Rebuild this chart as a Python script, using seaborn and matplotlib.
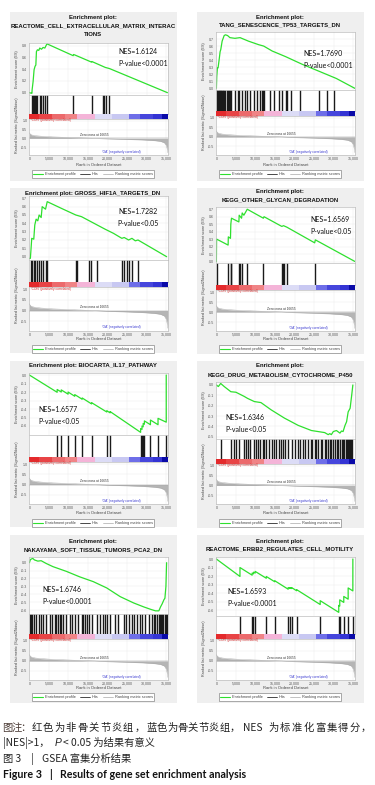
import matplotlib
matplotlib.use("Agg")
import matplotlib.pyplot as plt
import seaborn as sns
import pandas as pd
from matplotlib.lines import Line2D
from matplotlib.patches import Rectangle

# ---------------- data ----------------
titles = [
    ["Enrichment plot:", "REACTOME_CELL_EXTRACELLULAR_MATRIX_INTERAC", "TIONS"],
    ["Enrichment plot:", "TANG_SENESCENCE_TP53_TARGETS_DN"],
    ["Enrichment plot: GROSS_HIF1A_TARGETS_DN"],
    ["Enrichment plot:", "KEGG_OTHER_GLYCAN_DEGRADATION"],
    ["Enrichment plot: BIOCARTA_IL17_PATHWAY"],
    ["Enrichment plot:", "KEGG_DRUG_METABOLISM_CYTOCHROME_P450"],
    ["Enrichment plot:", "NAKAYAMA_SOFT_TISSUE_TUMORS_PCA2_DN"],
    ["Enrichment plot:", "REACTOME_ERBB2_REGULATES_CELL_MOTILITY"],
]
nes_values = ["1.6124", "1.7690", "1.7282", "1.6569", "1.6577", "1.6346", "1.6746", "1.6593"]
p_values = ["P-value<0.0001", "P-value<0.0001", "P-value<0.05", "P-value<0.05",
            "P-value<0.05", "P-value<0.05", "P-value<0.0001", "P-value<0.0001"]

es1_x = [0, 500, 650, 700, 950, 1200, 1450, 1650, 1800, 2050, 2400, 2650, 3100, 3500, 3950, 4400, 4550,
         11200, 11300, 11700, 15900, 16000, 19400, 20500, 35300]
es1_y = [0.0, -0.01, -0.01, 0.05, 0.19, 0.39, 0.45, 0.47, 0.70, 0.73, 0.72, 0.76, 0.74, 0.77, 0.76, 0.82, 0.83,
         0.63, 0.65, 0.64, 0.52, 0.53, 0.43, 0.41, 0.0]
hits1 = [600, 850, 1100, 1400, 1800, 2050, 2650, 3000, 3550, 3900, 4450, 11250, 15950, 18900, 19200, 19500, 20400]

es2_x = [0, 100, 260, 430, 690, 950, 1120, 1470, 1990, 2330, 2850, 3460, 4750, 6050, 6910, 8210, 10800,
         12100, 14260, 17700, 22000, 26350, 30670, 35400]
es2_y = [0.0, 0.17, 0.29, 0.29, 0.40, 0.52, 0.55, 0.67, 0.75, 0.76, 0.75, 0.72, 0.71, 0.72, 0.70, 0.67, 0.62,
         0.60, 0.53, 0.45, 0.34, 0.24, 0.14, 0.0]
hits2 = [100, 250, 420, 600, 700, 850, 950, 1100, 1300, 1450, 1600, 1800, 1950, 2300, 2600, 2900, 3200, 3500,
         3800, 4700, 5400, 5800, 6500, 7300, 7800, 8600, 9500, 10300, 11200, 11600, 11900, 12100, 13800, 14700,
         16000, 16800, 17700, 18100, 19000, 21500, 26300, 28400, 30100]

es3_x = [0, 250, 430, 600, 1120, 1380, 1720, 2150, 2490, 3010, 3270, 4130, 4560, 8170, 11870, 13330, 19350,
         21500, 23650, 24250, 25370, 26230, 27090, 27780, 35090]
es3_y = [-0.02, -0.02, 0.10, 0.22, 0.21, 0.38, 0.45, 0.43, 0.50, 0.47, 0.60, 0.57, 0.66, 0.58, 0.50, 0.48, 0.33,
         0.28, 0.22, 0.23, 0.20, 0.22, 0.19, 0.20, 0.0]
hits3 = [430, 700, 1120, 1460, 1890, 2400, 3010, 3440, 4300, 4560, 11870, 12200, 15300, 15650, 17400, 23650,
         24100, 24950, 25370, 26230, 27780]

es4_x = [0, 50, 3000, 3050, 3600, 3690, 3860, 5750, 5830, 6440, 6600, 7030, 7890, 12010, 12180, 16730, 17160,
         18020, 25140, 25310, 35440]
es4_y = [0.0, 0.30, 0.22, 0.33, 0.31, 0.50, 0.58, 0.53, 0.62, 0.58, 0.65, 0.62, 0.70, 0.58, 0.60, 0.47, 0.48,
         0.46, 0.25, 0.29, 0.0]
hits4 = [50, 3000, 3690, 3860, 5750, 6000, 6600, 7890, 12010, 16730, 16980, 17330, 18020, 25310]

es5_x = [0, 7100, 7100, 8150, 8150, 9900, 9900, 11600, 11600, 13500, 13500, 15900, 15900, 19780, 19780, 20640,
         20640, 28450, 28450, 28800, 28800, 29100, 29100, 29410, 29410, 30960, 30960, 32900, 32900, 35000, 35000]
es5_y = [0.0, -0.203, -0.17, -0.20, -0.175, -0.225, -0.20, -0.25, -0.23, -0.285, -0.27, -0.34, -0.325, -0.435,
         -0.42, -0.445, -0.43, -0.675, -0.63, -0.64, -0.60, -0.61, -0.57, -0.58, -0.54, -0.585, -0.53, -0.585,
         -0.51, -0.555, 0.0]
hits5 = [7100, 8150, 9900, 11600, 13500, 15900, 19780, 20640, 28450, 28800, 29100, 29410, 30960, 32900, 35000]

es6_x = [0, 500, 1100, 2000, 3700, 5000, 7100, 8000, 9700, 11400, 14000, 17400, 20900, 24300, 26000, 27700,
         28600, 29000, 29400, 29900, 30700, 31600, 32000, 32400, 32900, 33300, 33700, 34200, 34600, 34900]
es6_y = [0.0, -0.015, 0.015, -0.015, -0.065, -0.07, -0.11, -0.13, -0.16, -0.17, -0.24, -0.32, -0.39, -0.44,
         -0.45, -0.46, -0.48, -0.47, -0.48, -0.45, -0.44, -0.465, -0.445, -0.45, -0.39, -0.355, -0.26, -0.225,
         -0.10, 0.0]
hits6 = [1115, 3690, 4380, 4980, 5830, 7120, 7550, 8150, 8580, 9700, 10120, 10730, 11240, 11840, 12270, 12700,
         13560, 14160, 14840, 15270, 15960, 16560, 16990, 17420, 18280, 19310, 19990, 20850, 21280, 22140, 22740,
         23420, 24110, 24540, 25140, 25570, 26000, 26680, 27110, 27710, 28140, 28570, 29000, 29430, 29860, 30290,
         30720, 31150, 31570, 32000, 32430, 32690, 33030, 33290, 33550, 33890, 34150, 34400, 34750]

es7_x = [0, 260, 860, 1290, 2150, 3010, 4300, 6020, 9460, 12900, 16340, 19780, 23220, 26660, 29240, 30960,
         32250, 33110, 33540, 33970, 34400, 34660, 34920, 35090]
es7_y = [0.0, 0.04, 0.055, 0.035, 0.02, 0.025, -0.01, -0.05, -0.11, -0.18, -0.24, -0.32, -0.43, -0.51, -0.56,
         -0.59, -0.61, -0.61, -0.56, -0.52, -0.47, -0.45, -0.30, 0.0]
hits7 = [170, 430, 690, 1120, 1720, 2410, 3010, 3440, 4300, 5160, 5850, 6450, 6710, 7310, 7740, 8170, 8600,
         9460, 10490, 11010, 11610, 12470, 13330, 13760, 14190, 14790, 15310, 15910, 17200, 18060, 18920, 19350,
         19780, 20640, 21930, 22790, 24080, 24770, 25370, 26230, 26660, 27520, 28210, 28810, 29670, 30530, 31390,
         31820, 32250, 32680, 33110, 33370, 33710, 33970, 34230, 34570, 34830, 35090]

es8_x = [0, 6030, 6030, 9140, 9140, 9480, 9480, 9910, 9910, 12760, 12760, 14910, 14910, 18360, 18360, 18790,
         18790, 19220, 19220, 20520, 20520, 26550, 26550, 31290, 31290, 31550, 31550, 32580, 32580, 33700, 33700,
         34900, 34900]
es8_y = [0.0, -0.205, -0.10, -0.19, -0.165, -0.175, -0.155, -0.165, -0.145, -0.226, -0.205, -0.267, -0.255,
         -0.355, -0.335, -0.347, -0.335, -0.347, -0.335, -0.373, -0.36, -0.535, -0.49, -0.627, -0.545, -0.553,
         -0.48, -0.51, -0.44, -0.472, -0.34, -0.375, 0.0]
hits8 = [6030, 9140, 9480, 9910, 12760, 14910, 18360, 18790, 19220, 20520, 26550, 31290, 31550, 32580, 33700,
         34900]

es_x = [es1_x, es2_x, es3_x, es4_x, es5_x, es6_x, es7_x, es8_x]
es_y = [es1_y, es2_y, es3_y, es4_y, es5_y, es6_y, es7_y, es8_y]
hits = [hits1, hits2, hits3, hits4, hits5, hits6, hits7, hits8]
es_ticks = [
    [0.0, 0.2, 0.4, 0.6, 0.8],
    [0.0, 0.1, 0.2, 0.3, 0.4, 0.5, 0.6, 0.7],
    [0.0, 0.1, 0.2, 0.3, 0.4, 0.5, 0.6, 0.7],
    [0.0, 0.1, 0.2, 0.3, 0.4, 0.5, 0.6, 0.7],
    [0.0, -0.1, -0.2, -0.3, -0.4, -0.5, -0.6],
    [0.0, -0.1, -0.2, -0.3, -0.4, -0.5],
    [0.0, -0.1, -0.2, -0.3, -0.4, -0.5, -0.6],
    [0.0, -0.1, -0.2, -0.3, -0.4, -0.5, -0.6],
]

# ranked list metric (shared)
rank_x = [0, 200, 600, 1500, 3000, 6000, 10000, 14000, 16655, 20000, 25000, 29000, 32000, 33500, 34500, 35000,
          35300, 35400]
rank_y = [0.32, 0.24, 0.19, 0.15, 0.12, 0.08, 0.05, 0.02, 0.0, -0.03, -0.06, -0.09, -0.13, -0.17, -0.25, -0.4,
          -0.65, -0.82]
rank_ticks = [0, 5000, 10000, 15000, 20000, 25000, 30000, 35000]
rank_ticklabels = ["0", "5,000", "10,000", "15,000", "20,000", "25,000", "30,000", "35,000"]
metric_ticks = [1.0, 0.5, 0.0, -0.5]

# colour bar blocks (rank edges and colours)
cb_edges = [0, 2500, 5660, 9000, 12100, 16800, 21100, 25400, 28400, 31500, 33980, 35450]
cb_colors = ["#e42a2c", "#e84446", "#ec6a6c", "#f08486", "#f4b4d8", "#dcdcf6", "#c8c8f2", "#6e6ee8",
             "#4646dc", "#3434d4", "#0a0aa8"]

legend_labels = ["Enrichment profile", "Hits", "Ranking metric scores"]

# ---------------- layout (pixels) ----------------
W, H = 375, 785
cols = [0, 1, 0, 1, 0, 1, 0, 1]
ylims = [(-0.04, 0.846), (-0.024, 0.80), (-0.04, 0.728), (-0.02, 0.73),
         (-0.706, 0.024), (-0.522, 0.029), (-0.65, 0.072), (-0.67, 0.024)]
lay = [
    dict(bg=(12, 181), ty=[17, 25.5, 34], es=(43, 95), cb=(114, 119), rk=155, xl=165, leg=174, nes=(118, 52), pv=(118, 63)),
    dict(bg=(12, 181), ty=[17, 25], es=(32, 90), cb=(111, 116), rk=155, xl=165, leg=174, nes=(303, 53), pv=(303, 65)),
    dict(bg=(188, 353), ty=[193], es=(196, 260), cb=(282, 287), rk=331, xl=339, leg=349, nes=(118, 211), pv=(117, 223)),
    dict(bg=(188, 354), ty=[192, 200], es=(207, 263), cb=(285, 290), rk=331, xl=339, leg=349, nes=(310, 220), pv=(310, 232)),
    dict(bg=(361, 527), ty=[366], es=(373, 435), cb=(457, 462), rk=504, xl=513, leg=523, nes=(38, 410), pv=(38, 421)),
    dict(bg=(361, 528), ty=[366, 375], es=(382, 439), cb=(459, 464), rk=504, xl=513, leg=523, nes=(225, 418), pv=(225, 430)),
    dict(bg=(535, 703), ty=[541, 550], es=(557, 614), cb=(634, 639), rk=680, xl=688, leg=697, nes=(42, 590), pv=(42, 602)),
    dict(bg=(535, 703), ty=[541, 549], es=(557, 616), cb=(634, 639), rk=680, xl=688, leg=697, nes=(227, 592), pv=(227, 603)),
]

sns.set_theme(style="white")
plt.rcParams['font.family'] = ['Liberation Sans', 'DejaVu Sans']

fig = plt.figure(figsize=(W / 100, H / 100), dpi=100)
fig.patch.set_facecolor("white")


def fx(px):
    return px / W


def fy(py):
    return 1 - py / H


def add_ax(x0, y0, x1, y1):
    return fig.add_axes([fx(x0), fy(y1), (x1 - x0) / W, (y1 - y0) / H])


XMIN, XMAX = -100, 35450
GREEN = "#2ee02e"
SPINE = "#bdbdbd"
TICKC = "#555555"
NESFONT = ["Lato", "DejaVu Sans"]


def style_spines(ax):
    for s in ax.spines.values():
        s.set_color(SPINE)
        s.set_linewidth(0.5)


for i in range(8):
    L = lay[i]
    ox = 0 if cols[i] == 0 else 187
    axl, axr = 29 + ox, 168 + ox
    cx = 93 + ox

    # panel background
    fig.add_artist(Rectangle((fx(10 + ox), fy(L['bg'][1])), 167 / W, (L['bg'][1] - L['bg'][0]) / H,
                             transform=fig.transFigure, facecolor="#efefef", edgecolor="none", zorder=-5))
    # titles
    for t, ty in zip(titles[i], L['ty']):
        fig.text(fx(cx), fy(ty), t, ha="center", va="center", fontsize=4.3, fontweight="bold", color="#111111")

    # ES plot
    es = add_ax(axl, L['es'][0], axr, L['es'][1])
    df = pd.DataFrame({"rank": es_x[i], "es": es_y[i]})
    sns.lineplot(data=df, x="rank", y="es", ax=es, color=GREEN, lw=0.9, sort=False, estimator=None)
    es.set_xlim(XMIN, XMAX)
    es.set_ylim(*ylims[i])
    es.set_xticks(rank_ticks)
    es.set_xticklabels([])
    es.set_yticks(es_ticks[i])
    es.set_yticklabels([f"{v:.1f}" for v in es_ticks[i]])
    es.tick_params(labelsize=2.6, length=0, pad=1.2, colors=TICKC)
    es.grid(True, color="#ebebeb", lw=0.35)
    es.set_xlabel("")
    es.set_ylabel("")
    style_spines(es)
    fig.text(fx(ox + 17), fy((L['es'][0] + L['es'][1]) / 2), "Enrichment score (ES)", rotation=90,
             ha="center", va="center", fontsize=2.7, color="#444444")
    fig.text(fx(L['nes'][0]), fy(L['nes'][1]), "NES=" + nes_values[i], ha="left", va="center",
             fontsize=5.0, family=NESFONT, color="#111111")
    fig.text(fx(L['pv'][0]), fy(L['pv'][1]), p_values[i], ha="left", va="center",
             fontsize=5.0, family=NESFONT, color="#111111")

    # hits
    hx = add_ax(axl, L['es'][1], axr, L['cb'][0])
    sns.rugplot(x=hits[i], ax=hx, height=1.0, color="#1a1a1a", lw=0.32, expand_margins=False)
    hx.set_xlim(XMIN, XMAX)
    hx.set_ylim(0, 1)
    hx.set_xticks([])
    hx.set_yticks([])
    style_spines(hx)

    # colour bar
    cb = add_ax(axl, L['cb'][0], axr, L['cb'][1])
    for a, b, c in zip(cb_edges[:-1], cb_edges[1:], cb_colors):
        cb.axvspan(a, b, color=c, lw=0)
    cb.set_xlim(XMIN, XMAX)
    cb.set_xticks([])
    cb.set_yticks([])
    for s in cb.spines.values():
        s.set_visible(False)

    # ranked list
    rk = add_ax(axl, L['cb'][1], axr, L['rk'])
    rk.fill_between(rank_x, rank_y, 0, color="#b5b5b5", lw=0)
    sns.lineplot(x=rank_x, y=rank_y, ax=rk, color="#a8a8a8", lw=0.3, estimator=None)
    rk.axhline(0, color="#9a9a9a", lw=0.3)
    rk.set_xlim(XMIN, XMAX)
    rk.set_ylim(-0.95, 1.1)
    rk.set_xticks(rank_ticks)
    rk.set_xticklabels(rank_ticklabels)
    rk.set_yticks(metric_ticks)
    rk.set_yticklabels([f"{v:.1f}" for v in metric_ticks])
    rk.tick_params(labelsize=2.6, length=0, pad=1.2, colors=TICKC)
    rk.grid(True, color="#ebebeb", lw=0.35)
    rk.set_xlabel("")
    rk.set_ylabel("")
    style_spines(rk)
    rk.text(300, 1.03, "'CON' (positively correlated)", fontsize=2.3, color="#d43030", va="center")
    rk.text(16655, 0.06, "Zero cross at 16655", fontsize=2.3, color="#333333", ha="center", va="bottom")
    rk.text(18600, -0.78, "'OA' (negatively correlated)", fontsize=2.3, color="#3a3ad0", va="center")
    fig.text(fx(ox + 17), fy((L['es'][1] + L['rk']) / 2), "Ranked list metric (Signal2Noise)", rotation=90,
             ha="center", va="center", fontsize=2.7, color="#444444")
    fig.text(fx((axl + axr) / 2), fy(L['xl']), "Rank in Ordered Dataset", ha="center", va="center",
             fontsize=3.0, color="#444444")

    # legend
    handles = [Line2D([], [], color=GREEN, lw=0.8), Line2D([], [], color="black", lw=0.5),
               Line2D([], [], color="#aaaaaa", lw=0.5)]
    leg = fig.legend(handles, legend_labels, loc="center", bbox_to_anchor=(fx(cx), fy(L['leg'])), ncol=3,
                     fontsize=2.8, frameon=True, fancybox=False, edgecolor="#888888", framealpha=1,
                     handlelength=2.6, handletextpad=0.4, columnspacing=1.1, borderpad=0.45)
    leg.get_frame().set_linewidth(0.5)
    for txt in leg.get_texts():
        txt.set_color("#444444")

# ---------------- caption ----------------
CJK = ["Noto Sans CJK SC", "DejaVu Sans"]
cap_size = 7.4
CAPC = "#222222"


def spread(text, x0, x1, y, color=CAPC):
    step = (x1 - x0) / len(text)
    for k, ch in enumerate(text):
        fig.text(fx(x0 + step * (k + 0.5)), fy(y), ch, ha="center", va="center", fontsize=cap_size,
                 family=CJK, color=color)


spread("图注：", 3, 30, 728, color="#4a3a34")
spread("红色为非骨关节炎组，", 31, 145, 728)
spread("蓝色为骨关节炎组，", 146, 240, 728)
fig.text(fx(243), fy(728), "NES", fontsize=cap_size, family=CJK, va="center", color=CAPC)
spread("为标准化富集得分，", 268, 372, 728)
fig.text(fx(3), fy(743), "|NES|>1，", fontsize=cap_size, family=CJK, va="center", color=CAPC)
fig.text(fx(55), fy(743), "P", fontsize=cap_size, family=["Liberation Sans"], style="italic", va="center", color=CAPC)
fig.text(fx(63), fy(743), "< 0.05 为结果有意义", fontsize=cap_size, family=CJK, va="center", color=CAPC)
fig.text(fx(3), fy(759), "图 3", fontsize=cap_size, family=CJK, va="center", color=CAPC)
fig.text(fx(31), fy(759), "|", fontsize=cap_size, family=CJK, va="center", color=CAPC)
fig.text(fx(42), fy(759), "GSEA 富集分析结果", fontsize=cap_size, family=CJK, va="center", color=CAPC)
BF = ["Lato", "DejaVu Sans"]
fig.text(fx(3), fy(775), "Figure 3", fontsize=7.7, family=BF, fontweight="bold", va="center", color="#111111")
fig.text(fx(49), fy(775), "|", fontsize=7.7, family=BF, fontweight="bold", va="center", color="#111111")
fig.text(fx(60), fy(775), "Results of gene set enrichment analysis", fontsize=7.7, family=BF,
         fontweight="bold", va="center", color="#111111")

fig.savefig("out.png", dpi=100, facecolor="white")
